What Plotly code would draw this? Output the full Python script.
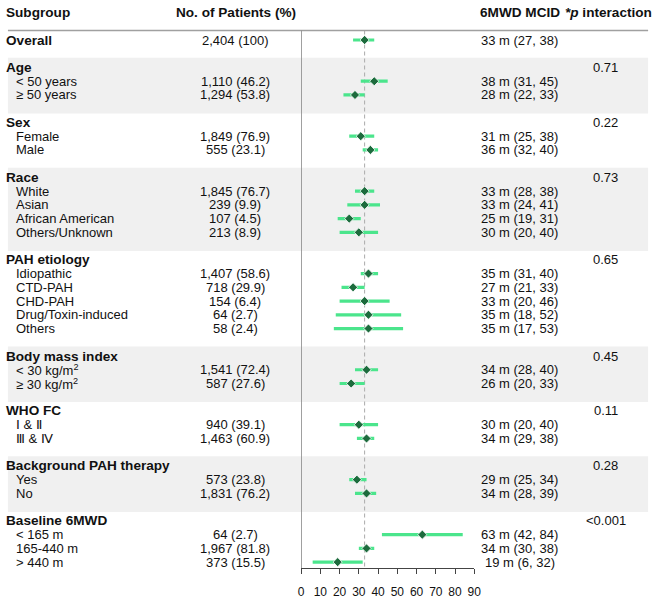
import plotly.graph_objects as go

# ---------------- data ----------------
overall_label = "Overall"
overall_n = "2,404 (100)"
overall_est = 33
overall_lo = 27
overall_hi = 38

group_names = ["Age", "Sex", "Race", "PAH etiology", "Body mass index",
               "WHO FC", "Background PAH therapy", "Baseline 6MWD"]
group_p = ["0.71", "0.22", "0.73", "0.65", "0.45", "0.11", "0.28", "<0.001"]
group_sizes = [2, 2, 4, 5, 2, 2, 2, 3]

item_labels = ["< 50 years", "≥ 50 years",
               "Female", "Male",
               "White", "Asian", "African American", "Others/Unknown",
               "Idiopathic", "CTD-PAH", "CHD-PAH", "Drug/Toxin-induced", "Others",
               "< 30 kg/m<sup>2</sup>", "≥ 30 kg/m<sup>2</sup>",
               "Ⅰ & Ⅱ", "Ⅲ & Ⅳ",
               "Yes", "No",
               "< 165 m", "165-440 m", "> 440 m"]
item_n = ["1,110 (46.2)", "1,294 (53.8)",
          "1,849 (76.9)", "555 (23.1)",
          "1,845 (76.7)", "239 (9.9)", "107 (4.5)", "213 (8.9)",
          "1,407 (58.6)", "718 (29.9)", "154 (6.4)", "64 (2.7)", "58 (2.4)",
          "1,541 (72.4)", "587 (27.6)",
          "940 (39.1)", "1,463 (60.9)",
          "573 (23.8)", "1,831 (76.2)",
          "64 (2.7)", "1,967 (81.8)", "373 (15.5)"]
item_est = [38, 28, 31, 36, 33, 33, 25, 30, 35, 27, 33, 35, 35, 34, 26, 30, 34, 29, 34, 63, 34, 19]
item_lo = [31, 22, 25, 32, 28, 24, 19, 20, 31, 21, 20, 18, 17, 28, 20, 20, 29, 25, 28, 42, 30, 6]
item_hi = [45, 33, 38, 40, 38, 41, 31, 40, 40, 33, 46, 52, 53, 40, 33, 40, 38, 34, 39, 84, 38, 32]

reference_value = 33
x_ticks = [0, 10, 20, 30, 40, 50, 60, 70, 80, 90]

# ---------------- layout geometry ----------------
W, H = 662, 601
ROW = 13.74          # px per row
TOP = 40.0           # px centre of first row
AXIS_PX = 568.0      # px of x axis line
r_top = -TOP / ROW
r_bot = (AXIS_PX - TOP) / ROW

def px(x):
    return x / W

FONT = "Liberation Sans, Arial, sans-serif"
TXT = "#111111"
CI_COLOR = "#4be58c"
PT_COLOR = "#1d6b3d"

rows = []
r = 0
rows.append(dict(kind="overall", row=r, label=overall_label, n=overall_n,
                 est=overall_est, lo=overall_lo, hi=overall_hi))
k = 0
bands = []
for gi, (g, p, size) in enumerate(zip(group_names, group_p, group_sizes)):
    r += 2
    header_row = r
    rows.append(dict(kind="header", row=r, label=g, p=p))
    for j in range(size):
        r += 1
        rows.append(dict(kind="item", row=r, label=item_labels[k], n=item_n[k],
                         est=item_est[k], lo=item_lo[k], hi=item_hi[k]))
        k += 1
    if gi % 2 == 0:
        bands.append((header_row - 0.7, r + 1.35))

fig = go.Figure()

cx, cy = [], []
px_est, py_est = [], []
for d in rows:
    if d["kind"] in ("overall", "item"):
        cx += [d["lo"], d["hi"], None]
        cy += [d["row"], d["row"], None]
        px_est.append(d["est"])
        py_est.append(d["row"])

fig.add_trace(go.Scatter(x=cx, y=cy, mode="lines",
                         line=dict(color=CI_COLOR, width=3.2),
                         hoverinfo="skip", showlegend=False))
fig.add_trace(go.Scatter(x=px_est, y=py_est, mode="markers",
                         marker=dict(symbol="diamond", size=7, color=PT_COLOR,
                                     line=dict(color="white", width=0.8)),
                         showlegend=False))

shapes = []
for y0, y1 in bands:
    shapes.append(dict(type="rect", xref="paper", yref="y", x0=px(5), x1=px(655),
                       y0=y0, y1=y1, fillcolor="#f0f0f0", line=dict(width=0),
                       layer="below"))
header_line_row = (30.5 - TOP) / ROW
shapes.append(dict(type="line", xref="paper", yref="y", x0=px(5), x1=px(655),
                   y0=header_line_row, y1=header_line_row,
                   line=dict(color="#a0a0a0", width=1.5)))
shapes.append(dict(type="line", xref="x", yref="y", x0=0, x1=0,
                   y0=header_line_row, y1=r_bot,
                   line=dict(color="#8a8a8a", width=1.6)))
shapes.append(dict(type="line", xref="x", yref="y", x0=reference_value, x1=reference_value,
                   y0=header_line_row, y1=r_bot,
                   line=dict(color="#aaaaaa", width=1, dash="4px,3px"), layer="below"))

annotations = []
def ann(text, xp, y, anchor="left", bold=False):
    annotations.append(dict(text=f"<b>{text}</b>" if bold else text,
                            xref="paper", yref="y", x=px(xp), y=y,
                            xanchor=anchor, yanchor="middle", showarrow=False,
                            font=dict(family=FONT, size=13.6 if bold else 13, color=TXT),
                            borderpad=0, borderwidth=0))

hdr_row = (12 - TOP) / ROW
ann("Subgroup", 3.5, hdr_row, "left", True)
ann("No. of Patients (%)", 236.5, hdr_row, "center", True)
ann("6MWD MCID", 525, hdr_row, "center", True)
ann("<i>*p</i> interaction", 615, hdr_row, "center", True)

for d in rows:
    if d["kind"] == "overall":
        ann(d["label"], 3.5, d["row"], "left", True)
    elif d["kind"] == "header":
        ann(d["label"], 3.5, d["row"], "left", True)
        ann(d["p"], 612, d["row"], "center")
        continue
    else:
        ann(d["label"], 13.5, d["row"], "left")
    ann(d["n"], 236, d["row"], "center")
    ann(f'{d["est"]} m ({d["lo"]}, {d["hi"]})', 524.5, d["row"], "center")

fig.update_layout(
    width=W, height=H,
    margin=dict(l=0, r=0, t=0, b=0),
    paper_bgcolor="white", plot_bgcolor="rgba(0,0,0,0)",
    shapes=shapes, annotations=annotations,
    font=dict(family=FONT, color=TXT),
    xaxis=dict(domain=[302.7 / W, 478.5 / W], range=[0, 90],
               tickvals=x_ticks, ticks="outside", ticklen=5, tickwidth=1,
               tickcolor="#444", showline=True, linecolor="#444", linewidth=1,
               showgrid=False, zeroline=False,
               tickfont=dict(family=FONT, size=12, color=TXT),
               ticklabelstandoff=8, fixedrange=True),
    yaxis=dict(domain=[(H - AXIS_PX) / H, 1], range=[r_bot, r_top],
               visible=False, showgrid=False, zeroline=False, fixedrange=True),
    showlegend=False,
)

fig.write_html("out.html",
               config={"displayModeBar": False, "staticPlot": True},
               post_script="document.body.style.margin='0';document.body.style.overflow='hidden';")
